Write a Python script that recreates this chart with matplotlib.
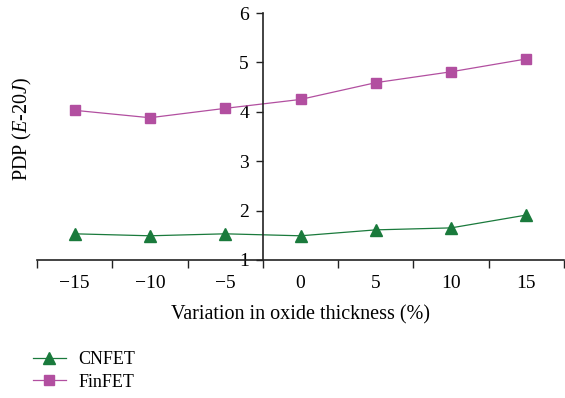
import numpy as np
import matplotlib.pyplot as plt

plt.rcParams['font.family'] = ['Liberation Serif', 'DejaVu Serif']
plt.rcParams['mathtext.fontset'] = 'custom'
plt.rcParams['mathtext.rm'] = 'Liberation Serif'
plt.rcParams['mathtext.it'] = 'Liberation Serif:italic'

variation = ['\u221215', '\u221210', '\u22125', '0', '5', '10', '15']
cnfet = [1.53, 1.49, 1.53, 1.49, 1.61, 1.65, 1.91]
finfet = [4.03, 3.88, 4.07, 4.25, 4.59, 4.81, 5.07]

green = '#1a7a3c'
magenta = '#b24fa0'

fig = plt.figure(figsize=(5.65, 3.98), dpi=100)
ax = fig.add_axes([37/565, 1 - 260/398, 527/565, 247/398])

x = np.arange(len(variation))
ax.plot(x, cnfet, '-^', color=green, lw=0.9, ms=8, label='CNFET')
ax.plot(x, finfet, '-s', color=magenta, lw=0.9, ms=7, label='FinFET')

ax.set_xlim(-0.5, len(variation) - 0.5)
ax.set_ylim(1, 6)

# spines: y axis crosses between -5 and 0
for s in ['top', 'right']:
    ax.spines[s].set_visible(False)
ax.spines['left'].set_position(('data', 2.5))
for s in ['left', 'bottom']:
    ax.spines[s].set_linewidth(1.2)
    ax.spines[s].set_color('#222222')

# x ticks at category boundaries, labels at centers
ax.set_xticks(np.arange(-0.5, len(variation), 1.0))
ax.set_xticklabels([])
ax.set_xticks(x, minor=True)
ax.set_xticklabels(variation, minor=True, fontsize=14)
ax.tick_params(axis='x', which='major', direction='out', length=6, width=1.0, color='#222222')
ax.tick_params(axis='x', which='minor', length=0, pad=11)

ax.set_yticks([1, 2, 3, 4, 5, 6])
ax.tick_params(axis='y', direction='out', length=5, width=1.0, labelsize=14, pad=5, color='#222222')

ax.set_xlabel('Variation in oxide thickness (%)', fontsize=14.5, labelpad=9)
ax.set_ylabel('PDP ($E$-20$J$)', fontsize=14.5)
ax.yaxis.set_label_coords(-0.006, 0.53)

fig.legend(loc='upper left', frameon=False,
           fontsize=13, handlelength=1.8, handletextpad=0.7, labelspacing=0.3,
           borderaxespad=0, bbox_to_anchor=(0.046, 1 - 344/398))

fig.savefig('out.png', dpi=100)
